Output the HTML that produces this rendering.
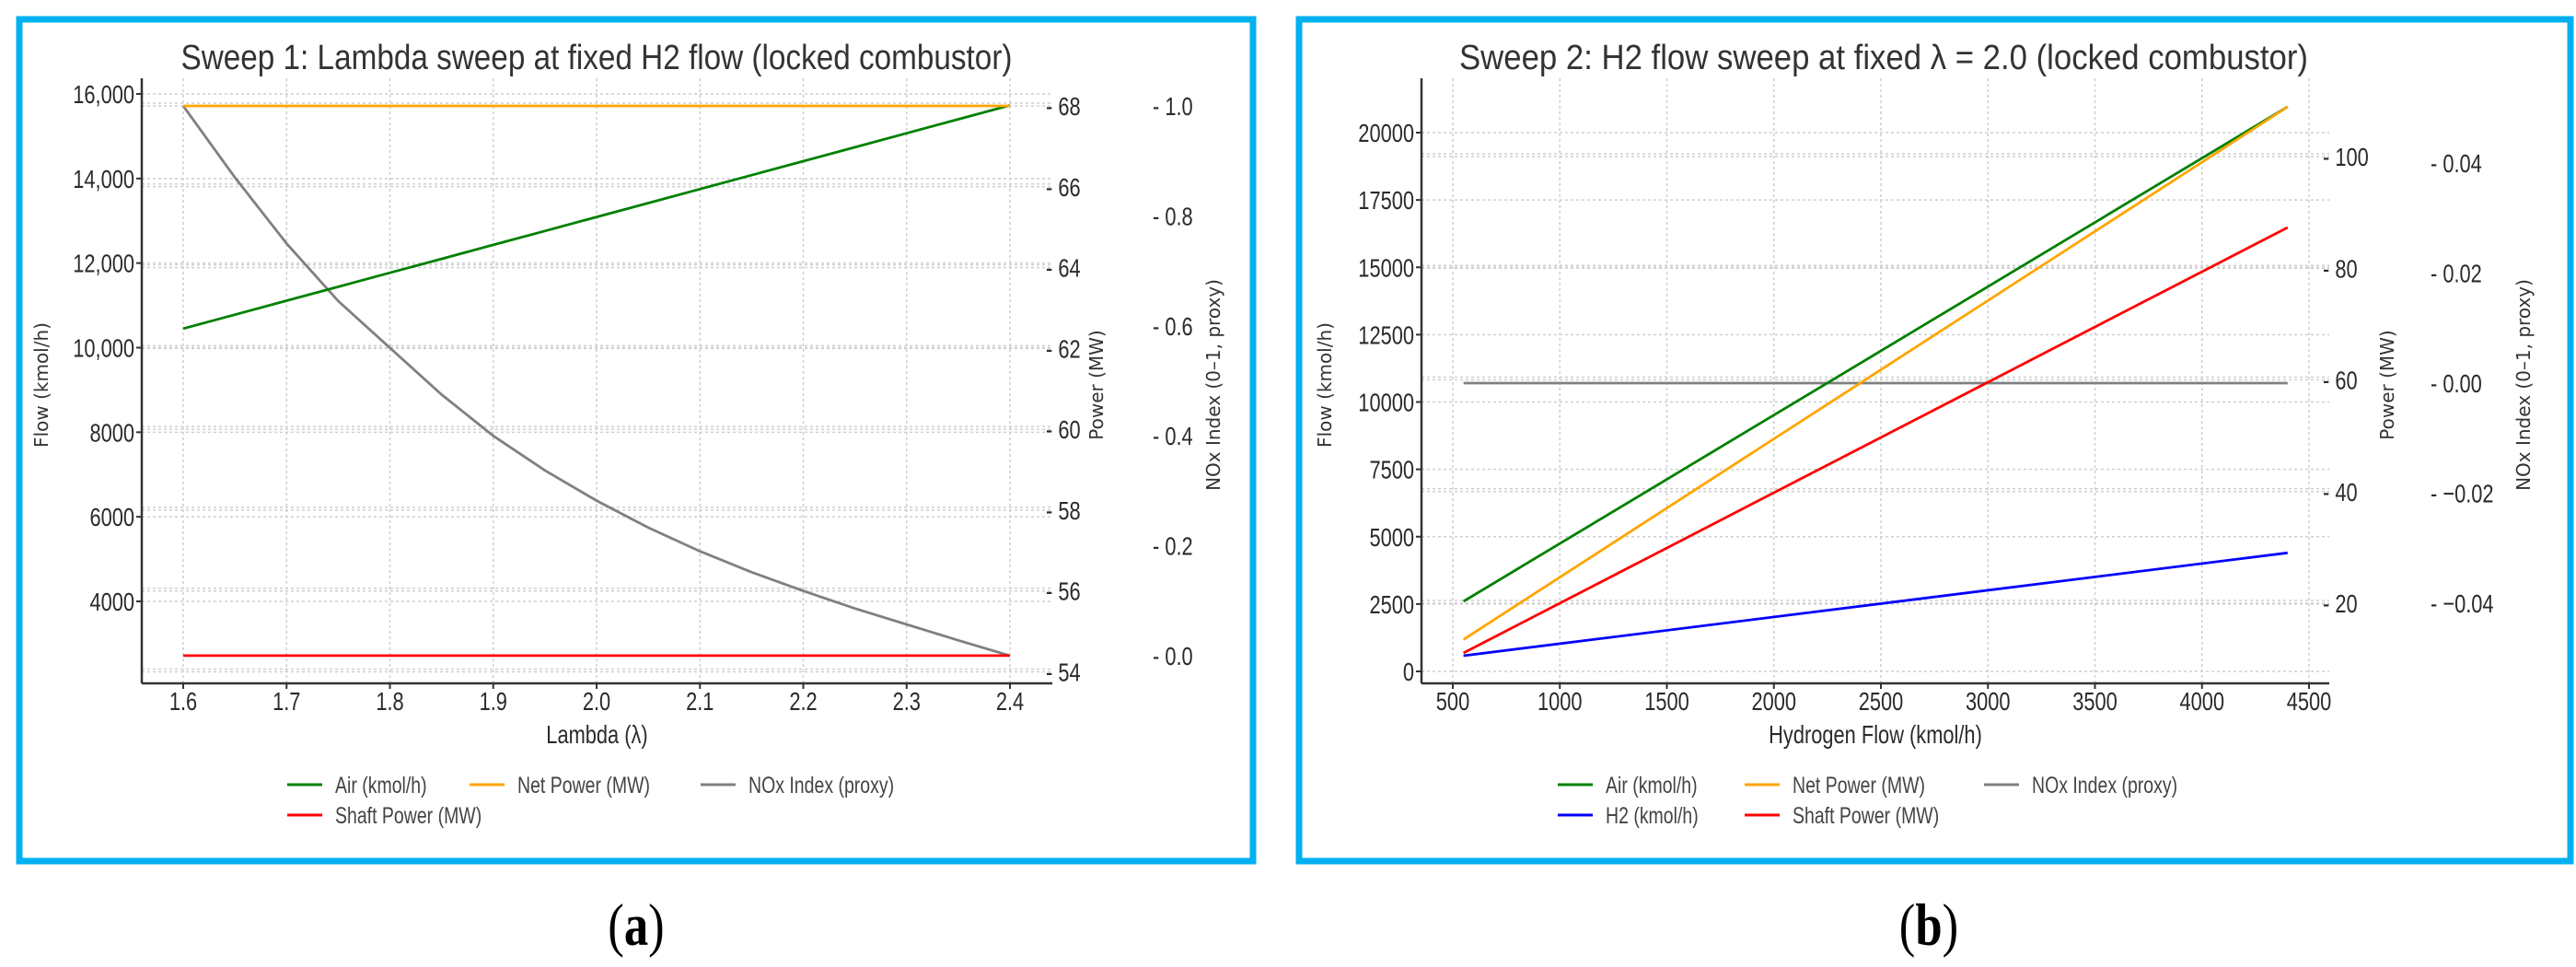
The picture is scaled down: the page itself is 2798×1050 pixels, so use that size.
<!DOCTYPE html>
<html><head><meta charset="utf-8"><style>
html,body{margin:0;padding:0;background:#fff;}
body{width:2798px;height:1050px;overflow:hidden;}
svg{display:block;}
.tk{font-family:"Liberation Sans",sans-serif;font-size:28px;fill:#2a2a2a;}
.ttl{font-family:"Liberation Sans",sans-serif;font-size:38px;fill:#333;}
.al{font-family:"DejaVu Sans","Liberation Sans",sans-serif;font-size:20px;fill:#333;}
.lg{font-family:"Liberation Sans",sans-serif;font-size:25px;fill:#444;}
.pl{font-family:"Liberation Serif",serif;font-size:62px;fill:#000;}
</style></head><body>
<svg id="chart" width="2798" height="1050" viewBox="0 0 2798 1050" xmlns="http://www.w3.org/2000/svg"></svg>
<script>
// Panel A data
const aLambda=[1.6,1.65,1.7,1.75,1.8,1.85,1.9,1.95,2.0,2.05,2.1,2.15,2.2,2.25,2.3,2.35,2.4];
const aAir=[10450,10780,11110,11440,11770,12100,12430,12760,13090,13420,13750,14080,14410,14740,15070,15400,15730];
const aNet=[68,68,68,68,68,68,68,68,68,68,68,68,68,68,68,68,68];
const aShaft=[54.4,54.4,54.4,54.4,54.4,54.4,54.4,54.4,54.4,54.4,54.4,54.4,54.4,54.4,54.4,54.4,54.4];
const aNox=[1.0,0.87,0.75,0.645,0.56,0.475,0.40,0.337,0.282,0.233,0.19,0.152,0.118,0.086,0.057,0.028,0.0];
const aXTicks=[1.6,1.7,1.8,1.9,2.0,2.1,2.2,2.3,2.4];
const aXLabels=["1.6","1.7","1.8","1.9","2.0","2.1","2.2","2.3","2.4"];
const aFlowTicks=[4000,6000,8000,10000,12000,14000,16000];
const aFlowLabels=["4000","6000","8000","10,000","12,000","14,000","16,000"];
const aPowTicks=[54,56,58,60,62,64,66,68];
const aNoxTicks=[0,0.2,0.4,0.6,0.8,1.0];
const aNoxLabels=["0.0","0.2","0.4","0.6","0.8","1.0"];
// Panel B data
const bH2flow=[550,4400];
const bAir=[2600,20960];
const bH2=[580,4400];
const bNet=[13.5,108.9];
const bShaft=[11.1,87.3];
const bNox=[0,0];
const bXTicks=[500,1000,1500,2000,2500,3000,3500,4000,4500];
const bFlowTicks=[0,2500,5000,7500,10000,12500,15000,17500,20000];
const bPowTicks=[20,40,60,80,100];
const bNoxTicks=[-0.04,-0.02,0,0.02,0.04];
const bNoxLabels=["\u22120.04","\u22120.02","0.00","0.02","0.04"];

const svg=document.getElementById('chart');
const NS='http://www.w3.org/2000/svg';
function mk(tag,attrs,parent,text){const e=document.createElementNS(NS,tag);for(const k in attrs)e.setAttribute(k,attrs[k]);if(text!==undefined)e.textContent=text;(parent||svg).appendChild(e);return e;}
function lin(d0,d1,r0,r1){return v=>r0+(v-d0)*(r1-r0)/(d1-d0);}
function ctext(parent,x,y,cls,str,anchor,sx){
  const t=mk('text',{x:0,y:0,class:cls,'text-anchor':anchor||'start',transform:`translate(${x},${y}) scale(${sx||0.78},1)`},parent,str);
  return t;
}

function panel(P){
  const g=mk('g',{});
  
  
  const fr=mk('rect',{x:P.bx,y:21,width:P.bw,height:914,fill:'#fff',stroke:'#00b0f0','stroke-width':7},g);
  
  
  const grid=mk('g',{stroke:'#cfcfcf','stroke-width':1.5,'stroke-dasharray':'3,3'},g);
  
  
  P.xt.forEach(v=>{mk('line',{x1:P.sx(v),x2:P.sx(v),y1:P.top,y2:P.bot},grid);});
  P.ft.forEach(v=>{mk('line',{x1:P.left,x2:P.right,y1:P.sf(v),y2:P.sf(v)},grid);});
  P.pt.forEach(v=>{mk('line',{x1:P.left,x2:P.right,y1:P.sp(v)-3,y2:P.sp(v)-3},grid);mk('line',{x1:P.left,x2:P.right,y1:P.sp(v),y2:P.sp(v)},grid);});
  const ls=mk('line',{x1:P.left,x2:P.left,y1:P.top,y2:P.bot,stroke:'#333','stroke-width':2.5},g);
  
  const bs=mk('line',{x1:P.left,x2:P.right,y1:P.bot,y2:P.bot,stroke:'#333','stroke-width':2.5},g);
  
  P.xt.forEach((v,i)=>{const x=P.sx(v);mk('line',{x1:x,x2:x,y1:P.bot,y2:P.bot+6,stroke:'#333','stroke-width':2},g);
    const t=ctext(g,x,P.bot+29,'tk',P.xl[i],'middle');
    });
  P.ft.forEach((v,i)=>{const y=P.sf(v);mk('line',{x1:P.left-6,x2:P.left,y1:y,y2:y,stroke:'#333','stroke-width':2},g);
    const t=ctext(g,P.left-8,y+10,'tk',P.fl[i],'end');
    });
  P.pt.forEach(v=>{const y=P.sp(v);
    const t=ctext(g,P.pX,y+10,'tk','- '+v);
    });
  P.nt.forEach((v,i)=>{const y=P.sn(v);
    const t=ctext(g,P.nX,y+10,'tk','- '+P.nl[i]);
    });
  P.series.forEach(s=>{
    const pts=s.y.map((v,i)=>P.sx(P.x[i]).toFixed(1)+','+s.sc(v).toFixed(1)).join(' ');
    const pl=mk('polyline',{points:pts,fill:'none',stroke:s.c,'stroke-width':2.8},g);
    
    
  });
  const t1=mk('text',{x:P.tx,y:75,'text-anchor':'middle',class:'ttl',textLength:P.tw,lengthAdjust:'spacingAndGlyphs'},g,P.title);
  
  const xl=ctext(g,(P.left+P.right)/2,807,'tk',P.xlab,'middle');
  
  const yl=mk('text',{x:0,y:0,'text-anchor':'middle',class:'al',transform:`translate(${P.fX},418) rotate(-90)`},g,'Flow (kmol/h)');
  
  const pl2=mk('text',{x:0,y:0,'text-anchor':'middle',class:'al',transform:`translate(${P.pLX},418) rotate(-90)`},g,'Power (MW)');
  
  const nl=mk('text',{x:0,y:0,'text-anchor':'middle',class:'al',transform:`translate(${P.nLX},418) rotate(-90)`},g,'NOx Index (0\u20131, proxy)');
  
  P.legend.forEach(L=>{
    const lg=mk('g',{},g);
    
    
    mk('line',{x1:L[0],x2:L[0]+38,y1:L[1],y2:L[1],stroke:L[2],'stroke-width':3},lg);
    ctext(lg,L[0]+52,L[1]+9,'lg',L[3]);
  });
  const pt=mk('text',{x:0,y:0,'text-anchor':'middle',class:'pl',transform:`translate(${P.plx},1026) scale(0.85,1.05)`},g);
  pt.appendChild(document.createTextNode('('));
  mk('tspan',{'font-weight':'bold'},pt,P.plab);
  pt.appendChild(document.createTextNode(')'));
  
}

(function(){
  const sx=lin(1.6,2.4,199,1097), sf=lin(4000,16000,653,102), sp=lin(54,68,729.5,115), sn=lin(0,1,712,115);
  panel({name:'panel-a-lambda-sweep',bx:21,bw:1340,left:154,right:1143,top:85,bot:742,sx,sf,sp,sn,
    xt:aXTicks,xl:aXLabels,ft:aFlowTicks,fl:aFlowLabels,pt:aPowTicks,nt:aNoxTicks,nl:aNoxLabels,
    pX:1136,nX:1252,fX:52,pLX:1198,nLX:1325,tx:648,tw:903,plx:691,plab:'a',
    title:'Sweep 1: Lambda sweep at fixed H2 flow (locked combustor)',xlab:'Lambda (\u03bb)',x:aLambda,
    series:[{n:'nox-index-line',y:aNox,sc:sn,c:'#808080'},{n:'air-line',y:aAir,sc:sf,c:'#008000'},
      {n:'net-power-line',y:aNet,sc:sp,c:'#ffa500'},{n:'shaft-power-line',y:aShaft,sc:sp,c:'#ff0000'}],
    legend:[[312,852,'#008000','Air (kmol/h)'],[510,852,'#ffa500','Net Power (MW)'],[761,852,'#808080','NOx Index (proxy)'],[312,885,'#ff0000','Shaft Power (MW)']]});
})();
(function(){
  const sx=lin(500,4500,1578,2508), sf=lin(0,20000,729,144), sp=lin(20,100,655,170), sn=lin(-0.04,0.04,655,177);
  panel({name:'panel-b-h2-sweep',bx:1411,bw:1381,left:1544,right:2530,top:85,bot:742,sx,sf,sp,sn,
    xt:bXTicks,xl:bXTicks.map(String),ft:bFlowTicks,fl:bFlowTicks.map(String),pt:bPowTicks,nt:bNoxTicks,nl:bNoxLabels,
    pX:2523,nX:2640,fX:1446,pLX:2600,nLX:2748,tx:2046,tw:922,plx:2095,plab:'b',
    title:'Sweep 2: H2 flow sweep at fixed \u03bb = 2.0 (locked combustor)',xlab:'Hydrogen Flow (kmol/h)',x:bH2flow,
    series:[{n:'nox-index-line',y:bNox,sc:sn,c:'#808080'},{n:'h2-line',y:bH2,sc:sf,c:'#0000ff'},{n:'shaft-power-line',y:bShaft,sc:sp,c:'#ff0000'},
      {n:'air-line',y:bAir,sc:sf,c:'#008000'},{n:'net-power-line',y:bNet,sc:sp,c:'#ffa500'}],
    legend:[[1692,852,'#008000','Air (kmol/h)'],[1895,852,'#ffa500','Net Power (MW)'],[2155,852,'#808080','NOx Index (proxy)'],[1692,885,'#0000ff','H2 (kmol/h)'],[1895,885,'#ff0000','Shaft Power (MW)']]});
})();
</script>
</body></html>
